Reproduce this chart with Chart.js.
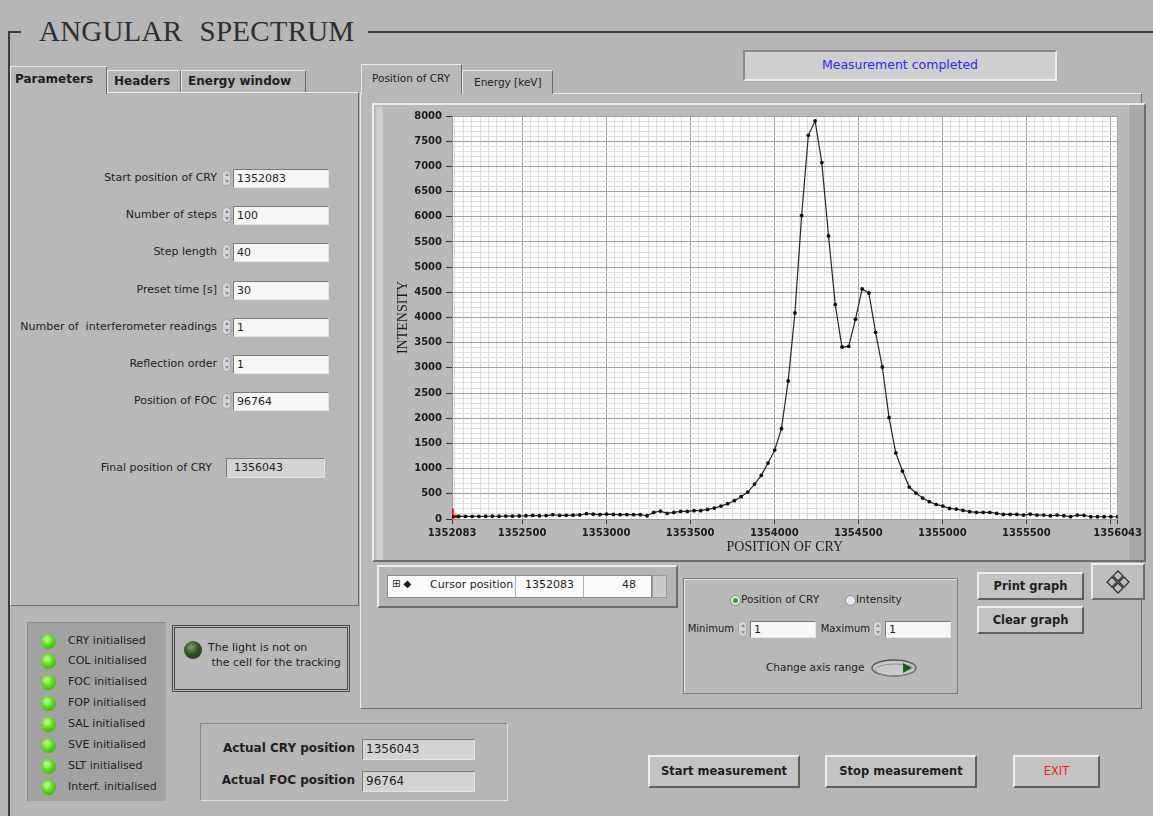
<!DOCTYPE html>
<html>
<head>
<meta charset="utf-8">
<title>Angular spectrum</title>
<script src="https://cdn.jsdelivr.net/npm/chart.js@4.4.1/dist/chart.umd.min.js"></script>
<style>
  body { margin:0; width:1153px; height:816px; background:#b6b6b6; position:relative; overflow:hidden;
         font-family:"DejaVu Sans", sans-serif; font-size:11px; color:#1e1e1e; }
  .a { position:absolute; }
  .line { position:absolute; background:#3c3c3c; }
  .raised { box-sizing:border-box; border-top:1px solid #ececec; border-left:1px solid #ececec;
            border-bottom:1px solid #6c6c6c; border-right:1px solid #6c6c6c; }
  .sunk { box-sizing:border-box; background:#f6f6f6; border-top:1px solid #7a7a7a; border-left:1px solid #7a7a7a;
          border-bottom:1px solid #e4e4e4; border-right:1px solid #e4e4e4; padding-left:3px; white-space:nowrap; }
  .ind { background:#d3d3d3; }
  .tab { position:absolute; box-sizing:border-box; border-top:1px solid #e8e8e8; border-left:1px solid #e8e8e8;
         border-right:1px solid #6c6c6c; background:#b8b8b8; padding-left:6px; white-space:nowrap; }
  .lbl { position:absolute; text-align:right; white-space:nowrap; }
  .spin { position:absolute; width:9px; height:16px; border-radius:4px; background:#d6d6d6;
          border:1px solid #a8a8a8; box-sizing:border-box; }
  .spin::before, .spin::after { content:""; position:absolute; left:2px; border-left:2px solid transparent;
          border-right:2px solid transparent; }
  .spin::before { top:2px; border-bottom:3px solid #8a8a8a; }
  .spin::after { bottom:2px; border-top:3px solid #8a8a8a; }
  .btn { position:absolute; box-sizing:border-box; background:#c3c3c3; font-weight:bold; text-align:center;
         border-top:2px solid #efefef; border-left:2px solid #efefef; border-bottom:2px solid #5e5e5e;
         border-right:2px solid #5e5e5e; white-space:nowrap; }
  .led { position:absolute; width:15px; height:15px; border-radius:50%;
         background:radial-gradient(circle at 40% 35%, #d8ff9c 0%, #5ee21c 40%, #2e9a0c 100%); }
  .ledtxt { position:absolute; left:68px; white-space:nowrap; }
</style>
</head>
<body>

<!-- frame and title -->
<div class="line" style="left:8px;top:31px;width:13px;height:2px"></div>
<div class="line" style="left:368px;top:31px;width:785px;height:2px"></div>
<div class="line" style="left:8px;top:31px;width:2px;height:785px"></div>
<div class="a" style="left:39px;top:16px;font-family:'Liberation Serif',serif;font-size:29px;line-height:30px;color:#2e2e2e;word-spacing:10px;letter-spacing:0.2px;white-space:nowrap">ANGULAR SPECTRUM</div>

<!-- left tab control -->
<div class="a raised" style="left:10px;top:92px;width:349px;height:514px;background:#b8b8b8"></div>
<div class="tab" style="left:107px;top:70px;width:74px;height:22px;font-weight:bold;font-size:12px;line-height:21px">Headers</div>
<div class="tab" style="left:181px;top:70px;width:125px;height:22px;font-weight:bold;font-size:12px;line-height:21px">Energy window</div>
<div class="tab" style="left:10px;top:66px;width:97px;height:28px;font-weight:bold;font-size:12px;line-height:25px;padding-left:4px;border-bottom:none">Parameters</div>

<div class="lbl" style="left:0;width:217px;top:171px">Start position of CRY</div>
<div class="spin" style="left:222px;top:170px"></div>
<div class="a sunk" style="left:233px;top:169px;width:96px;height:19px;line-height:17px">1352083</div>

<div class="lbl" style="left:0;width:217px;top:208px">Number of steps</div>
<div class="spin" style="left:222px;top:207px"></div>
<div class="a sunk" style="left:233px;top:206px;width:96px;height:19px;line-height:17px">100</div>

<div class="lbl" style="left:0;width:217px;top:245px">Step length</div>
<div class="spin" style="left:222px;top:244px"></div>
<div class="a sunk" style="left:233px;top:243px;width:96px;height:19px;line-height:17px">40</div>

<div class="lbl" style="left:0;width:217px;top:283px">Preset time [s]</div>
<div class="spin" style="left:222px;top:282px"></div>
<div class="a sunk" style="left:233px;top:281px;width:96px;height:19px;line-height:17px">30</div>

<div class="lbl" style="left:0;width:217px;top:320px">Number of &nbsp;interferometer readings</div>
<div class="spin" style="left:222px;top:319px"></div>
<div class="a sunk" style="left:233px;top:318px;width:96px;height:19px;line-height:17px">1</div>

<div class="lbl" style="left:0;width:217px;top:357px">Reflection order</div>
<div class="spin" style="left:222px;top:356px"></div>
<div class="a sunk" style="left:233px;top:355px;width:96px;height:19px;line-height:17px">1</div>

<div class="lbl" style="left:0;width:217px;top:394px">Position of FOC</div>
<div class="spin" style="left:222px;top:393px"></div>
<div class="a sunk" style="left:233px;top:392px;width:96px;height:19px;line-height:17px">96764</div>

<div class="lbl" style="left:0;width:212px;top:461px">Final position of CRY</div>
<div class="a sunk ind" style="left:226px;top:458px;width:99px;height:20px;line-height:18px;padding-left:7px">1356043</div>

<!-- status LEDs -->
<div class="a" style="left:27px;top:622px;width:139px;height:179px;background:#a2a2a2;border-top:1px solid #8c8c8c;border-left:1px solid #8c8c8c;box-sizing:border-box"></div>
<div class="led" style="left:41px;top:634px"></div><div class="ledtxt" style="top:634px">CRY initialised</div>
<div class="led" style="left:41px;top:654px"></div><div class="ledtxt" style="top:654px">COL initialised</div>
<div class="led" style="left:41px;top:675px"></div><div class="ledtxt" style="top:675px">FOC initialised</div>
<div class="led" style="left:41px;top:696px"></div><div class="ledtxt" style="top:696px">FOP initialised</div>
<div class="led" style="left:41px;top:717px"></div><div class="ledtxt" style="top:717px">SAL initialised</div>
<div class="led" style="left:41px;top:738px"></div><div class="ledtxt" style="top:738px">SVE initialised</div>
<div class="led" style="left:41px;top:759px"></div><div class="ledtxt" style="top:759px">SLT initialised</div>
<div class="led" style="left:41px;top:780px"></div><div class="ledtxt" style="top:780px">Interf. initialised</div>

<!-- tracking light -->
<div class="a" style="left:172px;top:625px;width:178px;height:67px;box-sizing:border-box;border:3px double #4a4a4a;background:#b8b8b8"></div>
<div class="a" style="left:184px;top:641px;width:18px;height:18px;border-radius:50%;background:radial-gradient(circle at 40% 35%, #7e9e72 0%, #2f5424 45%, #17300f 100%)"></div>
<div class="a" style="left:208px;top:640px;line-height:15px;white-space:nowrap">The light is not on<br>&nbsp;the cell for the tracking</div>

<!-- actual positions -->
<div class="a raised" style="left:200px;top:723px;width:308px;height:78px;border-top-color:#8a8a8a;border-left-color:#8a8a8a;border-bottom-color:#e0e0e0;border-right-color:#e0e0e0"></div>
<div class="lbl" style="left:200px;width:155px;top:741px;font-weight:bold;font-size:12px">Actual CRY position</div>
<div class="a sunk ind" style="left:362px;top:739px;width:113px;height:21px;line-height:19px;font-size:12px">1356043</div>
<div class="lbl" style="left:200px;width:155px;top:773px;font-weight:bold;font-size:12px">Actual FOC position</div>
<div class="a sunk ind" style="left:362px;top:771px;width:113px;height:21px;line-height:19px;font-size:12px">96764</div>

<!-- measurement buttons -->
<div class="btn" style="left:648px;top:755px;width:152px;height:33px;line-height:29px;font-size:11.5px">Start measurement</div>
<div class="btn" style="left:825px;top:755px;width:152px;height:33px;line-height:29px;font-size:11.5px">Stop measurement</div>
<div class="btn" style="left:1013px;top:755px;width:87px;height:33px;line-height:29px;font-size:11.5px;color:#e82020;font-weight:normal">EXIT</div>

<!-- status indicator -->
<div class="a" style="left:743px;top:50px;width:314px;height:31px;box-sizing:border-box;background:#cfcfcf;border:2px solid;border-color:#8a8a8a #ececec #ececec #8a8a8a;text-align:center;line-height:26px;font-size:12.5px;color:#2b2bf0">Measurement completed</div>

<!-- right tab control -->
<div class="a raised" style="left:360px;top:93px;width:782px;height:616px;background:#b8b8b8"></div>
<div class="tab" style="left:462px;top:70px;width:91px;height:24px;line-height:23px;font-size:10.5px;padding-left:11px">Energy [keV]</div>
<div class="tab" style="left:361px;top:64px;width:101px;height:30px;line-height:27px;font-size:10.5px;padding-left:10px;border-bottom:none">Position of CRY</div>

<!-- graph frame -->
<div class="a raised" style="left:372px;top:103px;width:774px;height:459px;background:#b9b9b9;border-width:2px"></div>
<div class="a" style="left:376px;top:107px;width:7px;height:453px;background:#cecece"></div>
<div class="a" style="left:1129px;top:105px;width:15px;height:455px;background:#a9a9a9"></div>
<canvas id="graph" class="a" style="left:385px;top:104px" width="760" height="456"></canvas>

<!-- cursor legend -->
<div class="a raised" style="left:377px;top:565px;width:301px;height:43px;background:#b4b4b4;border-width:2px"></div>
<div class="a" style="left:387px;top:575px;width:265px;height:23px;background:#fbfbfb;border:1px solid #8a8a8a;box-sizing:border-box"></div>
<div class="a" style="left:515px;top:576px;width:1px;height:21px;background:#b0b0b0"></div>
<div class="a" style="left:583px;top:576px;width:1px;height:21px;background:#b0b0b0"></div>
<div class="a" style="left:652px;top:575px;width:15px;height:23px;background:#cacaca;border:1px solid #9a9a9a;box-sizing:border-box"></div>
<div class="a" style="left:392px;top:578px;font-size:10px;white-space:nowrap">&#8862; &#9670;</div>
<div class="a" style="left:430px;top:578px;white-space:nowrap">Cursor position</div>
<div class="a" style="left:516px;top:578px;width:67px;text-align:center">1352083</div>
<div class="a" style="left:584px;top:578px;width:52px;text-align:right">48</div>

<!-- axis range -->
<div class="a" style="left:683px;top:578px;width:275px;height:116px;box-sizing:border-box;border:1px solid #7c7c7c;box-shadow:inset 1px 1px 0 #e2e2e2"></div>
<div class="a" style="left:730px;top:595px;width:9px;height:9px;border-radius:50%;background:#dfe8ee;border:1px solid #8a8a8a"></div>
<div class="a" style="left:733px;top:598px;width:5px;height:5px;border-radius:50%;background:#30a030"></div>
<div class="a" style="left:741px;top:593px;white-space:nowrap;font-size:10.5px">Position of CRY</div>
<div class="a" style="left:845px;top:595px;width:9px;height:9px;border-radius:50%;background:#dfe8ee;border:1px solid #8a8a8a"></div>
<div class="a" style="left:856px;top:593px;white-space:nowrap;font-size:10.5px">Intensity</div>
<div class="lbl" style="left:680px;width:54px;top:623px;font-size:10px">Minimum</div>
<div class="spin" style="left:738px;top:621px"></div>
<div class="a sunk" style="left:750px;top:621px;width:66px;height:17px;line-height:15px">1</div>
<div class="lbl" style="left:815px;width:55px;top:623px;font-size:10px">Maximum</div>
<div class="spin" style="left:873px;top:621px"></div>
<div class="a sunk" style="left:885px;top:621px;width:66px;height:17px;line-height:15px">1</div>
<div class="a" style="left:766px;top:661px;white-space:nowrap;font-size:10.5px">Change axis range</div>
<svg class="a" style="left:870px;top:658px" width="50" height="22">
  <ellipse cx="24" cy="10" rx="22" ry="8" fill="#c9c9c9" stroke="#555" stroke-width="1.3"/>
  <ellipse cx="25" cy="12" rx="20" ry="6" fill="none" stroke="#8e8e8e" stroke-width="1"/>
  <path d="M33 5 L42 10 L33 15 Z" fill="#1d5a1d"/>
</svg>

<!-- graph buttons -->
<div class="btn" style="left:977px;top:572px;width:107px;height:28px;line-height:24px;font-size:11.5px">Print graph</div>
<div class="btn" style="left:977px;top:606px;width:107px;height:28px;line-height:24px;font-size:11.5px">Clear graph</div>
<div class="a raised" style="left:1091px;top:563px;width:54px;height:37px;background:#bdbdbd;border-width:2px"></div>
<svg class="a" style="left:1105px;top:569px" width="26" height="26">
  <g fill="none" stroke="#333" stroke-width="1.3">
    <path d="M13 2 L18 7 L13 12 L8 7 Z"/><path d="M13 14 L18 19 L13 24 L8 19 Z"/>
    <path d="M7 8 L12 13 L7 18 L2 13 Z"/><path d="M19 8 L24 13 L19 18 L14 13 Z"/>
  </g>
</svg>

<script>
// scan positions of CRY (start 1352083, 100 steps of 40)
const positions = [
  1352083, 1352123, 1352163, 1352203, 1352243, 1352283, 1352323, 1352363, 1352403, 1352443,
  1352483, 1352523, 1352563, 1352603, 1352643, 1352683, 1352723, 1352763, 1352803, 1352843,
  1352883, 1352923, 1352963, 1353003, 1353043, 1353083, 1353123, 1353163, 1353203, 1353243,
  1353283, 1353323, 1353363, 1353403, 1353443, 1353483, 1353523, 1353563, 1353603, 1353643,
  1353683, 1353723, 1353763, 1353803, 1353843, 1353883, 1353923, 1353963, 1354003, 1354043,
  1354083, 1354123, 1354163, 1354203, 1354243, 1354283, 1354323, 1354363, 1354403, 1354443,
  1354483, 1354523, 1354563, 1354603, 1354643, 1354683, 1354723, 1354763, 1354803, 1354843,
  1354883, 1354923, 1354963, 1355003, 1355043, 1355083, 1355123, 1355163, 1355203, 1355243,
  1355283, 1355323, 1355363, 1355403, 1355443, 1355483, 1355523, 1355563, 1355603, 1355643,
  1355683, 1355723, 1355763, 1355803, 1355843, 1355883, 1355923, 1355963, 1356003, 1356043
];

// counts measured at each position
const intensity = [
  48, 52, 52, 52, 52, 55, 55, 55, 58, 58,
  60, 65, 70, 65, 68, 85, 70, 72, 75, 80,
  105, 95, 85, 98, 90, 85, 85, 85, 85, 65,
  131, 157, 111, 131, 151, 151, 165, 165, 191, 216,
  256, 304, 363, 443, 534, 693, 866, 1110, 1369, 1793,
  2739, 4090, 6022, 7617, 7902, 7075, 5618, 4257, 3414, 3427,
  3963, 4566, 4486, 3705, 3017, 2011, 1312, 952, 634, 515,
  416, 343, 290, 256, 210, 197, 171, 145, 131, 131,
  131, 111, 91, 91, 91, 78, 98, 78, 78, 65,
  78, 65, 46, 78, 72, 45, 45, 45, 45, 45
];

// cursor
const cursorPos = [1352083];
const cursorVal = [48];

// axis ticks: labelled majors, unlabelled minors
const xMin = 1352083, xMax = 1356043;
const xMajor = [1352500, 1353000, 1353500, 1354000, 1354500, 1355000, 1355500, 1356000];
const xMinorStep = 50;
const yMajor = [0, 500, 1000, 1500, 2000, 2500, 3000, 3500, 4000, 4500, 5000, 5500, 6000, 6500, 7000, 7500, 8000];
const yMinorStep = 100;

function buildTicks(min, max, step, extra) {
  const out = new Set(extra);
  for (let v = Math.ceil(min / step) * step; v <= max; v += step) out.add(v);
  return [...out].sort((a, b) => a - b).map(v => ({ value: v }));
}

const tickFont = { family: 'DejaVu Sans', size: 10, weight: 'bold' };
const titleFont = { family: 'Liberation Serif', size: 14 };

// white plot area
const plotBg = {
  id: 'plotBg',
  beforeDraw(chart) {
    const a = chart.chartArea;
    chart.ctx.save();
    chart.ctx.fillStyle = '#fdfdfd';
    chart.ctx.fillRect(a.left, a.top, a.right - a.left, a.bottom - a.top);
    chart.ctx.restore();
  }
};

const isXMajor = v => xMajor.includes(v) || v === xMin || v === xMax;
const xLabelled = v => (xMajor.includes(v) && v !== 1356000) || v === xMin || v === xMax;
const isYMajor = v => yMajor.includes(v);

new Chart(document.getElementById('graph'), {
  type: 'line',
  data: {
    datasets: [
      {
        data: positions.map((p, i) => ({ x: p, y: intensity[i] })),
        borderColor: '#262626',
        borderWidth: 1.2,
        pointRadius: 1.9,
        pointBackgroundColor: '#111',
        pointBorderWidth: 0,
        tension: 0
      },
      {
        data: cursorPos.map((p, i) => ({ x: p, y: cursorVal[i] })),
        showLine: false,
        pointStyle: 'cross',
        pointRadius: 8,
        pointBorderColor: '#e01010',
        pointBorderWidth: 3.5,
        clip: 0
      }
    ]
  },
  options: {
    responsive: false,
    animation: false,
    layout: { padding: { top: 12, right: 23, left: 0, bottom: 0 } },
    plugins: { legend: { display: false }, tooltip: { enabled: false } },
    scales: {
      x: {
        type: 'linear',
        min: xMin,
        max: xMax,
        afterBuildTicks: s => { s.ticks = buildTicks(xMin, xMax, xMinorStep, [xMin, xMax, ...xMajor]); },
        afterFit: s => { s.height = 41; },
        ticks: {
          autoSkip: false, maxRotation: 0, padding: 3, color: '#1c1c1c', font: tickFont,
          callback: v => xLabelled(v) ? String(v) : ''
        },
        grid: {
          tickLength: 5,
          color: c => isXMajor(c.tick.value) ? '#a2a2a2' : '#dddddd',
          tickColor: c => isXMajor(c.tick.value) ? '#333' : 'rgba(0,0,0,0)'
        },
        border: { color: '#9a9a9a' },
        title: { display: true, text: 'POSITION OF CRY', color: '#1c1c1c', font: titleFont, padding: { top: 0, bottom: 4 } }
      },
      y: {
        min: 0,
        max: 8000,
        afterBuildTicks: s => { s.ticks = buildTicks(0, 8000, yMinorStep, yMajor); },
        afterFit: s => { s.width = 67; },
        ticks: {
          autoSkip: false, padding: 4, color: '#1c1c1c', font: tickFont,
          callback: v => isYMajor(v) ? String(v) : ''
        },
        grid: {
          tickLength: 6,
          color: c => isYMajor(c.tick.value) ? '#a2a2a2' : '#dddddd',
          tickColor: c => isYMajor(c.tick.value) ? '#333' : 'rgba(0,0,0,0)'
        },
        border: { color: '#9a9a9a' },
        title: { display: true, text: 'INTENSITY', color: '#1c1c1c', font: titleFont, padding: { top: 10, bottom: 0 } }
      }
    }
  },
  plugins: [plotBg]
});
</script>
</body>
</html>
